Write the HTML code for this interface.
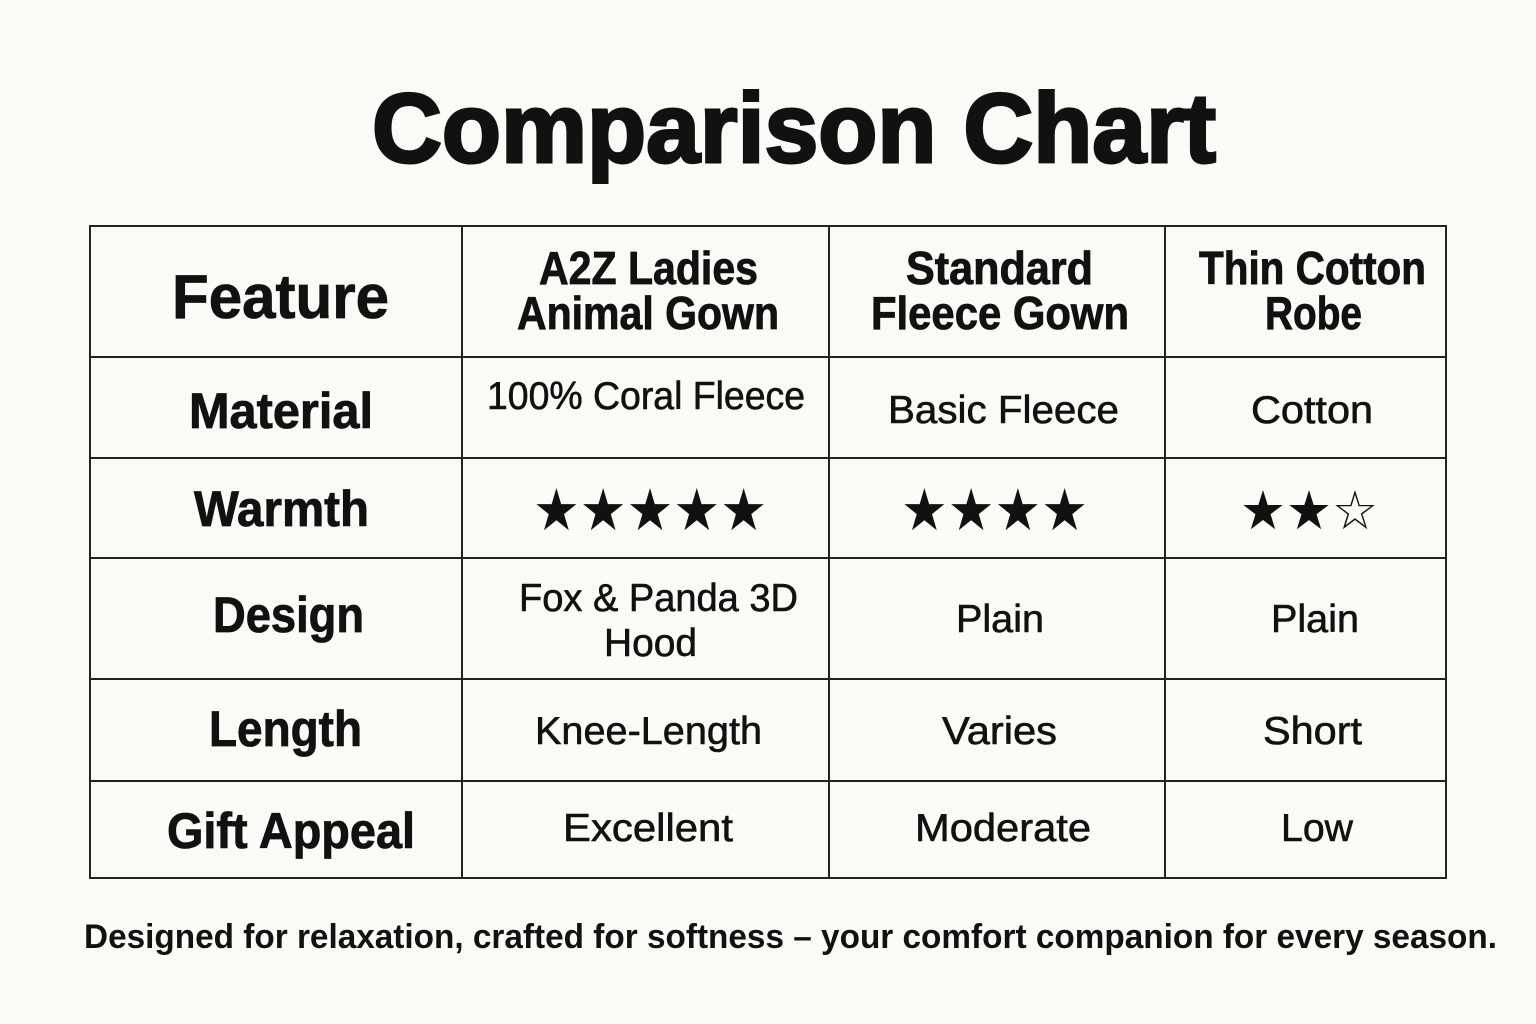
<!DOCTYPE html>
<html><head><meta charset="utf-8"><style>html,body{margin:0;padding:0;background:#fbfaf7;}svg{display:block}</style></head>
<body>
<svg width="1536" height="1024" viewBox="0 0 1536 1024" xmlns="http://www.w3.org/2000/svg">
<rect width="1536" height="1024" fill="#fbfaf7"/>
<g font-family="Liberation Sans, sans-serif" fill="#111">
<text x="372" y="162" font-size="98" font-weight="bold" stroke="#111" stroke-width="3" textLength="844" lengthAdjust="spacingAndGlyphs">Comparison Chart</text>
</g>
<g stroke="#222" stroke-width="2" fill="none">
<rect x="90" y="226" width="1356" height="652"/>
<line x1="462" y1="226" x2="462" y2="878"/>
<line x1="829" y1="226" x2="829" y2="878"/>
<line x1="1165" y1="226" x2="1165" y2="878"/>
<line x1="90" y1="357" x2="1446" y2="357"/>
<line x1="90" y1="458" x2="1446" y2="458"/>
<line x1="90" y1="558" x2="1446" y2="558"/>
<line x1="90" y1="679" x2="1446" y2="679"/>
<line x1="90" y1="781" x2="1446" y2="781"/>
</g>
<g font-family="Liberation Sans, sans-serif" fill="#111" font-weight="bold" stroke="#111" stroke-width="0.8">
<text x="172" y="318" font-size="62" textLength="217" lengthAdjust="spacingAndGlyphs">Feature</text>
<text x="539" y="284" font-size="46" textLength="219" lengthAdjust="spacingAndGlyphs">A2Z Ladies</text>
<text x="517" y="329" font-size="46" textLength="262" lengthAdjust="spacingAndGlyphs">Animal Gown</text>
<text x="906" y="284" font-size="46" textLength="187" lengthAdjust="spacingAndGlyphs">Standard</text>
<text x="871" y="329" font-size="46" textLength="258" lengthAdjust="spacingAndGlyphs">Fleece Gown</text>
<text x="1199" y="284" font-size="46" textLength="227" lengthAdjust="spacingAndGlyphs">Thin Cotton</text>
<text x="1265" y="329" font-size="46" textLength="97" lengthAdjust="spacingAndGlyphs">Robe</text>
<text x="189" y="428" font-size="50" textLength="184" lengthAdjust="spacingAndGlyphs">Material</text>
<text x="194" y="526" font-size="50" textLength="175" lengthAdjust="spacingAndGlyphs">Warmth</text>
<text x="213" y="632" font-size="50" textLength="151" lengthAdjust="spacingAndGlyphs">Design</text>
<text x="209" y="746" font-size="50" textLength="153" lengthAdjust="spacingAndGlyphs">Length</text>
<text x="167" y="848" font-size="50" textLength="248" lengthAdjust="spacingAndGlyphs">Gift Appeal</text>
</g>
<g font-family="Liberation Sans, sans-serif" fill="#111" stroke="#111" stroke-width="0.6">
<text x="487" y="409" font-size="39" textLength="318" lengthAdjust="spacingAndGlyphs">100% Coral Fleece</text>
<text x="888" y="423" font-size="39" textLength="231" lengthAdjust="spacingAndGlyphs">Basic Fleece</text>
<text x="1251" y="423" font-size="39" textLength="122" lengthAdjust="spacingAndGlyphs">Cotton</text>
<text x="519" y="611" font-size="39" textLength="279" lengthAdjust="spacingAndGlyphs">Fox &amp; Panda 3D</text>
<text x="604" y="656" font-size="39" textLength="93" lengthAdjust="spacingAndGlyphs">Hood</text>
<text x="956" y="632" font-size="39" textLength="88" lengthAdjust="spacingAndGlyphs">Plain</text>
<text x="1271" y="632" font-size="39" textLength="88" lengthAdjust="spacingAndGlyphs">Plain</text>
<text x="535" y="744" font-size="39" textLength="227" lengthAdjust="spacingAndGlyphs">Knee-Length</text>
<text x="942" y="744" font-size="39" textLength="115" lengthAdjust="spacingAndGlyphs">Varies</text>
<text x="1263" y="744" font-size="39" textLength="99" lengthAdjust="spacingAndGlyphs">Short</text>
<text x="563" y="841" font-size="39" textLength="170" lengthAdjust="spacingAndGlyphs">Excellent</text>
<text x="915" y="841" font-size="39" textLength="176" lengthAdjust="spacingAndGlyphs">Moderate</text>
<text x="1281" y="841" font-size="39" textLength="72" lengthAdjust="spacingAndGlyphs">Low</text>
</g>
<g font-family="DejaVu Sans, sans-serif" fill="#111">
<text x="533" y="530" font-size="58" textLength="234" lengthAdjust="spacingAndGlyphs">★★★★★</text>
<text x="901" y="530" font-size="58" textLength="187" lengthAdjust="spacingAndGlyphs">★★★★</text>
<text x="1240" y="529" font-size="54" textLength="138" lengthAdjust="spacingAndGlyphs">★★☆</text>
</g>
<text x="84" y="948" font-family="Liberation Sans, sans-serif" font-weight="bold" font-size="34" fill="#111" textLength="1413" lengthAdjust="spacingAndGlyphs">Designed for relaxation, crafted for softness – your comfort companion for every season.</text>
</svg>
</body></html>
